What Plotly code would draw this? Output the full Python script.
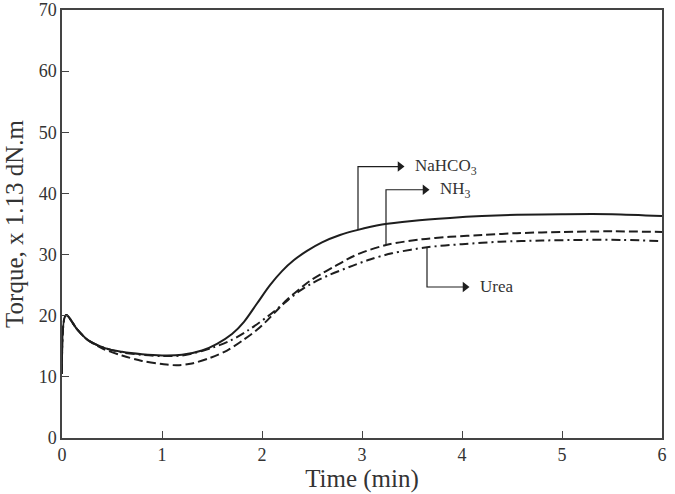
import plotly.graph_objects as go

# ---- data ----
t_nahco3 = [0, 0.04, 0.15, 0.26, 0.43, 0.6, 0.8, 1.0, 1.2, 1.4, 1.55, 1.7, 1.82, 1.95, 2.08,
            2.2, 2.32, 2.45, 2.6, 2.78, 2.95, 3.2, 3.5, 3.88, 4.2, 4.55, 5.0, 5.5, 6.0]
v_nahco3 = [10.5, 20.1, 17.8, 16.0, 14.7, 14.1, 13.7, 13.5, 13.6, 14.3, 15.4, 17.0, 19.0, 22.0, 25.0,
            27.3, 29.1, 30.6, 32.0, 33.2, 34.0, 34.9, 35.5, 36.0, 36.3, 36.5, 36.6, 36.6, 36.3]

t_nh3 = [0, 0.04, 0.15, 0.26, 0.41, 0.6, 0.8, 1.0, 1.15, 1.3, 1.48, 1.65, 1.81, 1.95, 2.05, 2.15,
         2.25, 2.37, 2.48, 2.6, 2.72, 2.85, 2.98, 3.25, 3.6, 3.88, 4.2, 4.55, 5.0, 5.5, 6.0]
v_nh3 = [10.5, 20.1, 17.8, 16.0, 14.6, 13.5, 12.6, 12.1, 11.9, 12.2, 13.1, 14.3, 16.0, 17.7, 19.2, 20.9,
         22.6, 24.3, 25.7, 26.9, 28.0, 29.2, 30.2, 31.6, 32.5, 32.9, 33.2, 33.5, 33.7, 33.8, 33.7]

t_urea = [0, 0.04, 0.15, 0.26, 0.43, 0.6, 0.8, 1.0, 1.2, 1.35, 1.51, 1.68, 1.85, 2.05, 2.21, 2.38,
          2.5, 2.65, 2.91, 3.08, 3.3, 3.65, 4.0, 4.38, 4.8, 5.21, 5.6, 6.0]
v_urea = [10.5, 20.1, 17.8, 16.0, 14.7, 14.0, 13.6, 13.4, 13.5, 14.0, 14.8, 15.9, 17.5, 19.8, 21.9, 24.1,
          25.3, 26.5, 28.2, 29.2, 30.2, 31.2, 31.7, 32.1, 32.3, 32.4, 32.4, 32.2]

x_ticks = [0, 1, 2, 3, 4, 5, 6]
y_ticks = [0, 10, 20, 30, 40, 50, 60, 70]

# label callouts: (text, x of vertical leader, y on curve, y of elbow, x of arrow tip)
callouts = [
    ("NaHCO<sub>3</sub>", 2.96, 34.0, 44.4, 3.41),
    ("NH<sub>3</sub>", 3.24, 31.6, 40.6, 3.66),
    ("Urea", 3.65, 31.2, 24.7, 4.06),
]

LINE = "#1e1e1e"
TXT = "#333333"
FONT = "Liberation Serif"

fig = go.Figure()
fig.add_trace(go.Scatter(x=t_nahco3, y=v_nahco3, mode="lines", name="NaHCO3",
                         line=dict(color=LINE, width=2, shape="spline", smoothing=0.9)))
fig.add_trace(go.Scatter(x=t_nh3, y=v_nh3, mode="lines", name="NH3",
                         line=dict(color=LINE, width=2, dash="9px,4px", shape="spline", smoothing=0.9)))
fig.add_trace(go.Scatter(x=t_urea, y=v_urea, mode="lines", name="Urea",
                         line=dict(color=LINE, width=2, dash="9px,4px,2px,4px", shape="spline", smoothing=0.9)))

for text, xv, ycurve, yelbow, xtip in callouts:
    # leader line: up/down from the curve, then across to the arrow tip
    fig.add_trace(go.Scatter(x=[xv, xv, xtip - 0.04], y=[ycurve, yelbow, yelbow], mode="lines",
                             line=dict(color=LINE, width=1.2), hoverinfo="skip"))
    fig.add_trace(go.Scatter(x=[xtip - 0.03], y=[yelbow], mode="markers",
                             marker=dict(symbol="triangle-right", size=9, color=LINE),
                             hoverinfo="skip"))
    fig.add_annotation(x=xtip + 0.1, y=yelbow, xref="x", yref="y", text=text,
                       showarrow=False, xanchor="left", yanchor="middle",
                       font=dict(family=FONT, size=17, color=TXT))

axis_common = dict(showline=True, linecolor="#444444", linewidth=1.5, mirror=True,
                   ticks="inside", ticklen=7, tickwidth=1.2, tickcolor="#444444",
                   showgrid=False, zeroline=False, automargin=False,
                   ticklabeloverflow="allow",
                   tickfont=dict(family=FONT, size=18, color=TXT))

fig.update_xaxes(range=[0, 6], tickvals=x_ticks, ticktext=[str(v) for v in x_ticks],
                 title=dict(text="Time (min)", font=dict(family=FONT, size=25, color=TXT), standoff=4),
                 **axis_common)
fig.update_yaxes(range=[0, 70], tickvals=y_ticks, ticktext=[str(v) for v in y_ticks],
                 title=dict(text="Torque, x 1.13 dN.m", font=dict(family=FONT, size=25, color=TXT), standoff=8),
                 **axis_common)

fig.update_layout(width=675, height=494, margin=dict(l=62, r=13, t=10, b=56),
                  paper_bgcolor="white", plot_bgcolor="white", showlegend=False)

fig.write_html("out.html")
